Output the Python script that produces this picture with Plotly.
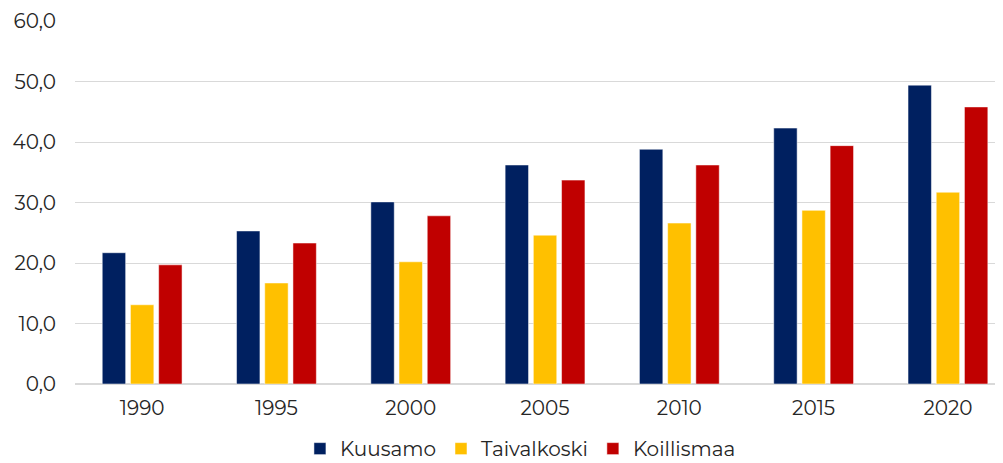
import plotly.graph_objects as go

years = ["1990", "1995", "2000", "2005", "2010", "2015", "2020"]
kuusamo = [21.7, 25.3, 30.1, 36.2, 38.8, 42.3, 49.4]
taivalkoski = [13.1, 16.7, 20.2, 24.6, 26.6, 28.7, 31.7]
koillismaa = [19.7, 23.3, 27.8, 33.7, 36.2, 39.4, 45.8]
series_names = ["Kuusamo", "Taivalkoski", "Koillismaa"]
colors = ["#002060", "#FFC000", "#C00000"]
y_ticks = [0, 10, 20, 30, 40, 50, 60]
y_tick_text = ["0,0", "10,0", "20,0", "30,0", "40,0", "50,0", "60,0"]

xpos = list(range(len(years)))
font_family = "Montserrat, 'Open Sans', sans-serif"

fig = go.Figure()
for name, vals, col in zip(series_names, [kuusamo, taivalkoski, koillismaa], colors):
    fig.add_trace(go.Bar(
        x=xpos, y=vals, name=name,
        marker=dict(color=col, line=dict(color="white", width=0.5)),
    ))

fig.update_layout(
    width=995, height=455,
    margin=dict(l=67, r=0, t=13, b=79, autoexpand=False),
    paper_bgcolor="white", plot_bgcolor="white",
    barmode="group", bargap=0.37, bargroupgap=0.17,
    font=dict(family=font_family, size=20, color="#262626"),
    showlegend=True,
    legend=dict(orientation="h", x=0.48, xanchor="center", y=-0.178, yanchor="middle",
                font=dict(size=20), itemwidth=30, traceorder="normal",
                tracegroupgap=0),
    xaxis=dict(
        tickmode="array", tickvals=xpos, ticktext=years,
        range=[-0.5, 6.41], showgrid=False, showline=False, zeroline=False,
        ticks="", tickfont=dict(size=20), automargin=False, ticklabelstandoff=10,
    ),
    yaxis=dict(
        range=[0, 60], tickmode="array", tickvals=y_ticks, ticktext=y_tick_text,
        showgrid=True, gridcolor="#D9D9D9", gridwidth=1.3,
        zeroline=True, zerolinecolor="#D9D9D9", zerolinewidth=1.5,
        showline=False, ticks="", ticklabelstandoff=18, tickfont=dict(size=20),
        automargin=False,
    ),
)

fig.write_html("out.html")
